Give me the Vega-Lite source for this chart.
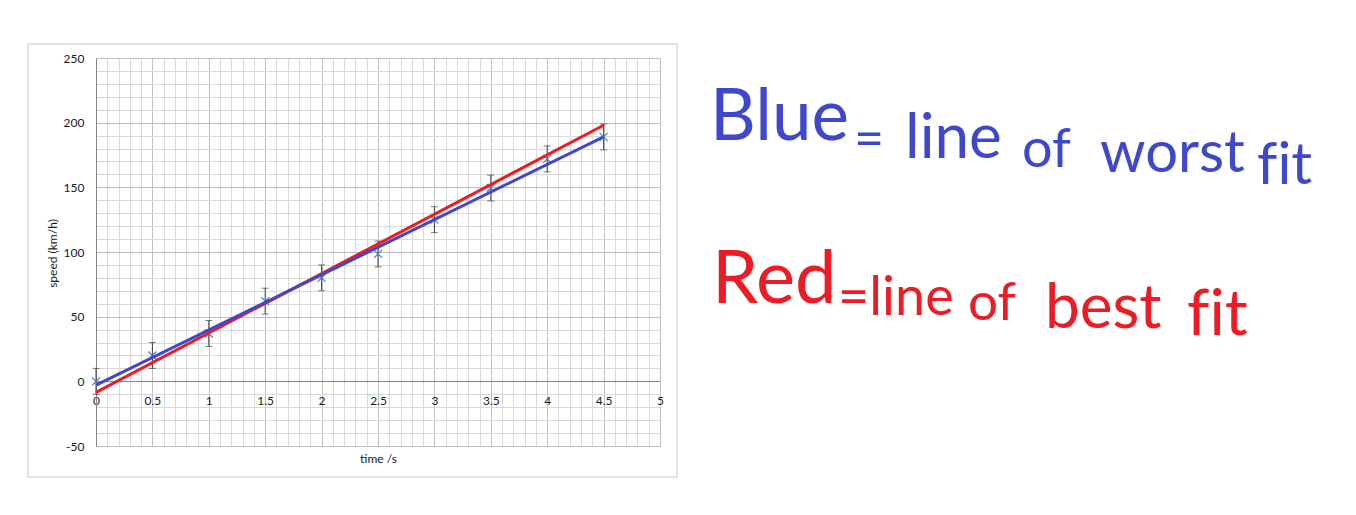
{
  "$schema": "https://vega.github.io/schema/vega-lite/v6.json",
  "width": 564,
  "height": 388,
  "autosize": "none",
  "padding": {"left": 96, "top": 58, "right": 696, "bottom": 69},
  "background": "white",
  "config": {"view": {"stroke": null}, "font": "Lato"},
  "resolve": {"axis": {"x": "independent", "y": "independent"}},
  "layer": [
    {
      "data": {
        "values": [
          {"t": 0, "v": 0, "lo": -10, "hi": 10},
          {"t": 0.5, "v": 20, "lo": 10, "hi": 30},
          {"t": 1, "v": 37, "lo": 27, "hi": 47},
          {"t": 1.5, "v": 62, "lo": 52, "hi": 72},
          {"t": 2, "v": 80, "lo": 70, "hi": 90},
          {"t": 2.5, "v": 98.5, "lo": 88.5, "hi": 108.5},
          {"t": 3, "v": 125, "lo": 115, "hi": 135},
          {"t": 3.5, "v": 149.5, "lo": 139.5, "hi": 159.5},
          {"t": 4, "v": 172, "lo": 162, "hi": 182},
          {"t": 4.5, "v": 189, "lo": 179, "hi": 199}
        ]
      },
      "encoding": {
        "x": {
          "field": "t",
          "type": "quantitative",
          "scale": {"domain": [0, 5], "nice": false, "zero": false},
          "axis": {
            "title": "time /s",
            "values": [0, 0.1, 0.2, 0.3, 0.4, 0.5, 0.6, 0.7, 0.8, 0.9, 1, 1.1, 1.2, 1.3, 1.4, 1.5, 1.6, 1.7, 1.8, 1.9, 2, 2.1, 2.2, 2.3, 2.4, 2.5, 2.6, 2.7, 2.8, 2.9, 3, 3.1, 3.2, 3.3, 3.4, 3.5, 3.6, 3.7, 3.8, 3.9, 4, 4.1, 4.2, 4.3, 4.4, 4.5, 4.6, 4.7, 4.8, 4.9, 5],
            "labelExpr": "abs(datum.value * 2 - round(datum.value * 2)) < 0.001 ? '' + datum.value : ''",
            "offset": -65,
            "ticks": false,
            "tickSize": 0,
            "labelPadding": 14,
            "labelFlush": false,
            "labelOverlap": false,
            "labelBound": false,
            "labelFontSize": 12,
            "labelColor": "#1a1a1a",
            "domainColor": "#868686",
            "domainWidth": 1,
            "grid": true,
            "gridColor": {
              "condition": {"test": "abs(datum.value * 2 - round(datum.value * 2)) < 0.001", "value": "#bfbfbf"},
              "value": "#d9d9d9"
            },
            "gridWidth": 1,
            "titleFontSize": 12,
            "titleFontWeight": "normal",
            "titleColor": "#1a1a1a",
            "titleY": 77,
            "titleBaseline": "middle"
          }
        },
        "y": {
          "field": "v",
          "type": "quantitative",
          "scale": {"domain": [-50, 250], "nice": false, "zero": false},
          "axis": {
            "title": "speed (km/h)",
            "values": [-50, -40, -30, -20, -10, 0, 10, 20, 30, 40, 50, 60, 70, 80, 90, 100, 110, 120, 130, 140, 150, 160, 170, 180, 190, 200, 210, 220, 230, 240, 250],
            "labelExpr": "datum.value % 50 === 0 ? '' + datum.value : ''",
            "ticks": false,
            "tickSize": 0,
            "labelPadding": 12,
            "labelOverlap": false,
            "labelBound": false,
            "labelFlush": false,
            "labelFontSize": 12,
            "labelColor": "#1a1a1a",
            "domainColor": "#868686",
            "domainWidth": 1,
            "grid": true,
            "gridColor": {
              "condition": {"test": "datum.value % 50 === 0", "value": "#bfbfbf"},
              "value": "#d9d9d9"
            },
            "gridWidth": 1,
            "titleFontSize": 12,
            "titleFontWeight": "normal",
            "titleColor": "#1a1a1a",
            "titleAngle": -90,
            "titleAlign": "center",
            "titleBaseline": "middle",
            "titleX": -44,
            "titleY": 195
          }
        }
      },
      "layer": [
        {
          "mark": {
            "type": "errorbar",
            "rule": {"color": "#404040", "strokeWidth": 1},
            "ticks": {"color": "#404040", "size": 7, "thickness": 1}
          },
          "encoding": {
            "y": {"field": "lo", "type": "quantitative", "title": "speed (km/h)"},
            "y2": {"field": "hi"}
          }
        },
        {
          "mark": {
            "type": "point",
            "shape": "M-1,-1L1,1M-1,1L1,-1",
            "filled": false,
            "size": 64,
            "stroke": "#4a7ebb",
            "strokeWidth": 1.2,
            "opacity": 1
          }
        },
        {
          "data": {
            "values": [
              {"fit": "best", "t": 0, "v": -8.5},
              {"fit": "best", "t": 4.5, "v": 198},
              {"fit": "worst", "t": 0, "v": -3},
              {"fit": "worst", "t": 4.5, "v": 189}
            ]
          },
          "mark": {"type": "line", "strokeWidth": 3},
          "encoding": {
            "color": {
              "field": "fit",
              "type": "nominal",
              "scale": {"domain": ["best", "worst"], "range": ["#ED1C24", "#3F48CC"]},
              "legend": null
            }
          }
        }
      ]
    },
    {
      "data": {"values": [{"frame": "chart area"}]},
      "mark": {"type": "rect", "filled": false, "stroke": "#d9d9d9", "strokeWidth": 1.5},
      "encoding": {
        "x": {"datum": -0.603, "type": "quantitative", "axis": null},
        "x2": {"datum": 5.151},
        "y": {"datum": 260.8, "type": "quantitative", "axis": null},
        "y2": {"datum": -74.0}
      }
    },
    {
      "data": {"values": [{"w": "Blue"}]},
      "mark": {"type": "text", "align": "left", "baseline": "alphabetic", "fontSize": 71, "color": "#3F48CC"},
      "encoding": {
        "x": {"datum": 5.443, "type": "quantitative", "axis": null},
        "y": {"datum": 186.6, "type": "quantitative", "axis": null},
        "text": {"field": "w"}
      }
    },
    {
      "data": {"values": [{"w": "="}]},
      "mark": {"type": "text", "align": "left", "baseline": "alphabetic", "fontSize": 52, "color": "#3F48CC"},
      "encoding": {
        "x": {"datum": 6.72, "type": "quantitative", "axis": null},
        "y": {"datum": 173.4, "type": "quantitative", "axis": null},
        "text": {"field": "w"}
      }
    },
    {
      "data": {"values": [{"w": "line"}]},
      "mark": {"type": "text", "align": "left", "baseline": "alphabetic", "fontSize": 62, "color": "#3F48CC"},
      "encoding": {
        "x": {"datum": 7.172, "type": "quantitative", "axis": null},
        "y": {"datum": 172.6, "type": "quantitative", "axis": null},
        "text": {"field": "w"}
      }
    },
    {
      "data": {"values": [{"w": "of"}]},
      "mark": {"type": "text", "align": "left", "baseline": "alphabetic", "fontSize": 54, "color": "#3F48CC"},
      "encoding": {
        "x": {"datum": 8.209, "type": "quantitative", "axis": null},
        "y": {"datum": 165.7, "type": "quantitative", "axis": null},
        "text": {"field": "w"}
      }
    },
    {
      "data": {"values": [{"w": "worst"}]},
      "mark": {"type": "text", "align": "left", "baseline": "alphabetic", "fontSize": 58, "color": "#3F48CC"},
      "encoding": {
        "x": {"datum": 8.901, "type": "quantitative", "axis": null},
        "y": {"datum": 161.8, "type": "quantitative", "axis": null},
        "text": {"field": "w"}
      }
    },
    {
      "data": {"values": [{"w": "f\u200cit"}]},
      "mark": {"type": "text", "align": "left", "baseline": "alphabetic", "fontSize": 58, "color": "#3F48CC"},
      "encoding": {
        "x": {"datum": 10.293, "type": "quantitative", "axis": null},
        "y": {"datum": 152.5, "type": "quantitative", "axis": null},
        "text": {"field": "w"}
      }
    },
    {
      "data": {"values": [{"w": "Red"}]},
      "mark": {"type": "text", "align": "left", "baseline": "alphabetic", "fontSize": 74, "color": "#ED1C24"},
      "encoding": {
        "x": {"datum": 5.461, "type": "quantitative", "axis": null},
        "y": {"datum": 60.5, "type": "quantitative", "axis": null},
        "text": {"field": "w"}
      }
    },
    {
      "data": {"values": [{"w": "=line"}]},
      "mark": {"type": "text", "align": "left", "baseline": "alphabetic", "fontSize": 54, "color": "#ED1C24"},
      "encoding": {
        "x": {"datum": 6.578, "type": "quantitative", "axis": null},
        "y": {"datum": 51.3, "type": "quantitative", "axis": null},
        "text": {"field": "w"}
      }
    },
    {
      "data": {"values": [{"w": "of"}]},
      "mark": {"type": "text", "align": "left", "baseline": "alphabetic", "fontSize": 53, "color": "#ED1C24"},
      "encoding": {
        "x": {"datum": 7.73, "type": "quantitative", "axis": null},
        "y": {"datum": 47.4, "type": "quantitative", "axis": null},
        "text": {"field": "w"}
      }
    },
    {
      "data": {"values": [{"w": "best"}]},
      "mark": {"type": "text", "align": "left", "baseline": "alphabetic", "fontSize": 62, "color": "#ED1C24"},
      "encoding": {
        "x": {"datum": 8.413, "type": "quantitative", "axis": null},
        "y": {"datum": 41.2, "type": "quantitative", "axis": null},
        "text": {"field": "w"}
      }
    },
    {
      "data": {"values": [{"w": "f\u200cit"}]},
      "mark": {"type": "text", "align": "left", "baseline": "alphabetic", "fontSize": 64, "color": "#ED1C24"},
      "encoding": {
        "x": {"datum": 9.672, "type": "quantitative", "axis": null},
        "y": {"datum": 35.8, "type": "quantitative", "axis": null},
        "text": {"field": "w"}
      }
    }
  ]
}
